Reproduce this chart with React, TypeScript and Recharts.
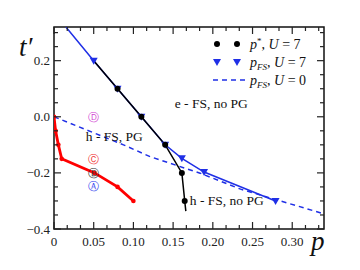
import React from "react";
import { LineChart, Line, XAxis, YAxis, Scatter, ReferenceArea } from "recharts";

// p* for U = 7 (black), first and last entries are line ends without a dot
const pStarP = [0.05, 0.08, 0.11, 0.14, 0.161, 0.1646, 0.166];
const pStarT = [0.2, 0.1, 0.0, -0.1, -0.2, -0.3, -0.336];

// p_FS for U = 7 (blue, triangles)
const fsU7P = [0.015, 0.05, 0.08, 0.11, 0.14, 0.161, 0.189, 0.279];
const fsU7T = [0.32, 0.2, 0.1, 0.0, -0.1, -0.148, -0.197, -0.3];

// p_FS for U = 0 (blue dashed)
const fsU0P = [0, 0.0875, 0.121, 0.184, 0.235, 0.34];
const fsU0T = [0, -0.1, -0.142, -0.201, -0.258, -0.346];

// pseudogap boundary (red)
const pgP = [0, 0.002, 0.0055, 0.0097, 0.051, 0.08, 0.1];
const pgT = [0, -0.05, -0.1, -0.15, -0.2, -0.25, -0.3];

// circled points
const markLetters = ["Ⓓ", "Ⓒ", "Ⓑ", "Ⓐ"];
const markP = [0.05, 0.05, 0.05, 0.05];
const markT = [0.0, -0.15, -0.2, -0.245];
const markColors = ["#d23fd2", "#f03030", "#333333", "#3344ee"];

// region labels
const regionText = ["e - FS, no PG", "h - FS, PG", "h - FS, no PG"];
const regionP = [0.152, 0.04, 0.171];
const regionT = [0.046, -0.07, -0.3];

const xMajor = [0, 0.05, 0.1, 0.15, 0.2, 0.25, 0.3];
const xLabels = ["0", "0.05", "0.10", "0.15", "0.20", "0.25", "0.30"];
const yMajor = [-0.4, -0.2, 0, 0.2];
const yLabels = ["\u22120.4", "\u22120.2", "0.0", "0.2"];

const zip = (xs: number[], ys: number[]) => xs.map((p, i) => ({ p, t: ys[i] }));

const xTicks: number[] = [];
for (let i = 0; i <= 20; i++) xTicks.push(+(i / 60).toFixed(5));
const yTicks: number[] = [];
for (let i = 0; i <= 14; i++) yTicks.push(+(-0.4 + i * 0.05).toFixed(3));

const isMajor = (v: number, majors: number[]) => majors.some((m) => Math.abs(m - v) < 1e-4);

const AXIS = "#111";
const TICK = "#222";
const FONT = "'Liberation Serif', 'DejaVu Serif', serif";
const BLUE = "#1f2fe6";

function BottomTick(props: any) {
  const { x, y, payload } = props;
  const major = isMajor(payload.value, xMajor);
  const idx = xMajor.findIndex((m) => Math.abs(m - payload.value) < 1e-4);
  return (
    <g>
      <path d={`M${x},${y}V${y - (major ? 7 : 4)}`} stroke={TICK} strokeWidth={1.2} fill="none" />
      <path d={`M${x},27V${27 + (major ? 7 : 4)}`} stroke={TICK} strokeWidth={1.2} fill="none" />
      {major && (
        <text x={x} y={y + 17} textAnchor="middle" fontSize={13} fontFamily={FONT} fill="#222">
          {xLabels[idx]}
        </text>
      )}
    </g>
  );
}

function LeftTick(props: any) {
  const { x, y, payload } = props;
  const major = isMajor(payload.value, yMajor);
  const idx = yMajor.findIndex((m) => Math.abs(m - payload.value) < 1e-4);
  return (
    <g>
      <path d={`M${x},${y}H${x + (major ? 7 : 4)}`} stroke={TICK} strokeWidth={1.2} fill="none" />
      <path d={`M324,${y}H${324 - (major ? 7 : 4)}`} stroke={TICK} strokeWidth={1.2} fill="none" />
      {major && (
        <text x={x - 4} y={y + 4.5} textAnchor="end" fontSize={13} fontFamily={FONT} fill="#222">
          {yLabels[idx]}
        </text>
      )}
    </g>
  );
}

const triangle = (cx: number, cy: number) =>
  `M${cx - 4},${cy - 3}L${cx + 4},${cy - 3}L${cx},${cy + 4}Z`;

export default function App() {
  const blackData = zip(pStarP, pStarT);
  const blueData = zip(fsU7P, fsU7T);
  const dashData = zip(fsU0P, fsU0T);
  const redData = zip(pgP, pgT);
  const marks = markP.map((p, i) => ({ p, t: markT[i], i }));
  const regions = regionP.map((p, i) => ({ p, t: regionT[i], i }));

  return (
    <div style={{ position: "absolute", left: 0, top: 0, width: 360, height: 270, background: "#fff" }}>
      <LineChart width={360} height={270} margin={{ top: 27, right: 36, bottom: 0, left: 0 }}>
        <ReferenceArea
          x1={0}
          x2={0.34}
          y1={-0.4}
          y2={0.32}
          fill="none"
          fillOpacity={0}
          stroke={AXIS}
          strokeWidth={1.5}
          ifOverflow="visible"
        />
        <XAxis
          dataKey="p"
          type="number"
          domain={[0, 0.34]}
          allowDataOverflow
          ticks={xTicks}
          interval={0}
          tickSize={0}
          tickMargin={0}
          height={41}
          axisLine={false}
          tick={<BottomTick />}
        />
        <YAxis
          dataKey="t"
          type="number"
          domain={[-0.4, 0.32]}
          allowDataOverflow
          ticks={yTicks}
          interval={0}
          tickSize={0}
          tickMargin={0}
          width={54}
          axisLine={false}
          tick={<LeftTick />}
        />
        <Line
          data={dashData}
          dataKey="t"
          stroke={BLUE}
          strokeWidth={1.5}
          strokeDasharray="5 4"
          dot={false}
          isAnimationActive={false}
        />
        <Line
          data={blueData}
          dataKey="t"
          stroke={BLUE}
          strokeWidth={1.5}
          isAnimationActive={false}
          dot={(d: any) =>
            d.index === 0 ? <g key={d.key} /> : <path key={d.key} d={triangle(d.cx, d.cy)} fill={BLUE} />
          }
        />
        <Line
          data={blackData}
          dataKey="t"
          stroke="#000"
          strokeWidth={1.5}
          isAnimationActive={false}
          dot={(d: any) =>
            d.index === 0 || d.index === pStarP.length - 1 ? (
              <g key={d.key} />
            ) : (
              <circle key={d.key} cx={d.cx} cy={d.cy} r={3} fill="#000" />
            )
          }
        />
        <Line
          data={redData}
          dataKey="t"
          stroke="#f00"
          strokeWidth={2.8}
          isAnimationActive={false}
          dot={(d: any) => <circle key={d.key} cx={d.cx} cy={d.cy} r={2.3} fill="#f00" />}
        />
        <Scatter
          data={marks}
          dataKey="t"
          isAnimationActive={false}
          shape={(d: any) => (
            <text
              x={d.cx}
              y={d.cy + 4}
              textAnchor="middle"
              fontSize={11}
              fontFamily="'DejaVu Sans', sans-serif"
              fill={markColors[d.payload.i]}
            >
              {markLetters[d.payload.i]}
            </text>
          )}
        />
        <Scatter
          data={regions}
          dataKey="t"
          isAnimationActive={false}
          shape={(d: any) => (
            <text x={d.cx} y={d.cy + 4.5} fontSize={13.5} fontFamily={FONT} fill="#111">
              {regionText[d.payload.i]}
            </text>
          )}
        />
      </LineChart>
      <svg
        width={360}
        height={270}
        style={{ position: "absolute", left: 0, top: 0, pointerEvents: "none" }}
        fontFamily={FONT}
      >
        <text x={19} y={56} fontSize={27} fontStyle="italic" fill="#111">
          t′
        </text>
        <text x={311} y={250} fontSize={27} fontStyle="italic" fill="#111">
          p
        </text>
        <circle cx={217} cy={44} r={3} fill="#000" />
        <circle cx={237} cy={44} r={3} fill="#000" />
        <text x={250} y={49} fontSize={14} fill="#111">
          <tspan fontStyle="italic">p</tspan>
          <tspan dy={-5} fontSize={9}>*</tspan>
          <tspan dy={5}>, </tspan>
          <tspan fontStyle="italic">U</tspan>
          <tspan> = 7</tspan>
        </text>
        <path d={triangle(217, 62)} fill={BLUE} />
        <path d={triangle(237, 62)} fill={BLUE} />
        <text x={250} y={67} fontSize={14} fill="#111">
          <tspan fontStyle="italic">p</tspan>
          <tspan dy={3} fontSize={9} fontStyle="italic">FS</tspan>
          <tspan dy={-3}>, </tspan>
          <tspan fontStyle="italic">U</tspan>
          <tspan> = 7</tspan>
        </text>
        <line x1={213} x2={245} y1={80} y2={80} stroke={BLUE} strokeWidth={1.5} strokeDasharray="5 4" />
        <text x={250} y={85} fontSize={14} fill="#111">
          <tspan fontStyle="italic">p</tspan>
          <tspan dy={3} fontSize={9} fontStyle="italic">FS</tspan>
          <tspan dy={-3}>, </tspan>
          <tspan fontStyle="italic">U</tspan>
          <tspan> = 0</tspan>
        </text>
      </svg>
    </div>
  );
}
